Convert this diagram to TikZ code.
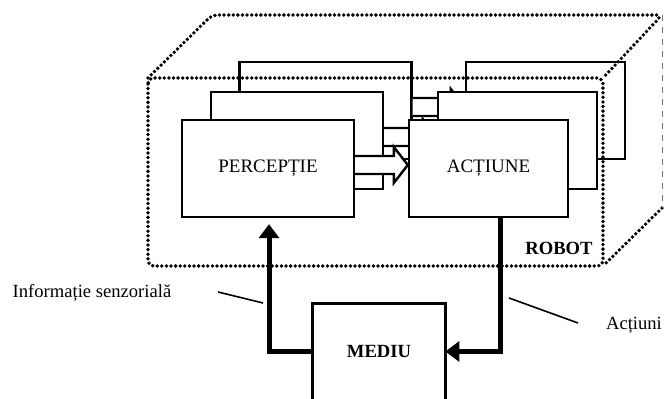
\documentclass[tikz,border=0pt]{standalone}
\usepackage{fontspec}
\setmainfont{Liberation Serif}
\usetikzlibrary{arrows.meta,calc}
\tikzset{
  blk/.style={draw, line width=1.2pt, fill=white, minimum height=48.5pt,
              inner sep=0pt, align=center, font=\fontsize{9.5}{11}\selectfont},
  percb/.style={blk, minimum width=86pt},
  actb/.style={blk, minimum width=79.5pt},
  arrb/.style={draw, line width=1.2pt, fill=white, line join=miter},
  flux/.style={-{Triangle[length=7pt,width=10pt]}, line width=2.5pt},
  robotline/.style={line width=1.9pt, line cap=round,
                    dash pattern=on 0pt off 2.3pt, rounded corners=3pt},
  backedge/.style={line width=0.4pt, dashed, draw=black!55},
  lbl/.style={font=\fontsize{9.3}{11}\selectfont, inner sep=1pt},
  tag/.style={font=\fontsize{9.3}{11}\selectfont\bfseries, inner sep=1pt},
  leader/.style={line width=0.8pt},
}
% sageata goala intre doua blocuri
\newcommand{\hollowarr}[2]{%
  \draw[arrb] ($(#1.east)+(0,-12.5)$) -- ($(#2.west)+(-14,-12.5)$)
    -- ($(#2.west)+(-14,-21.5)$) -- ($(#2.west)+(0,-3.5)$)
    -- ($(#2.west)+(-14,14.5)$) -- ($(#2.west)+(-14,5.5)$)
    -- ($(#1.east)+(0,5.5)$);}

\begin{document}
\begin{tikzpicture}[x=0.5pt, y=-0.5pt]
\useasboundingbox (0,0) rectangle (665,399);

% ---- nivel spate ----
\node[percb] (percB) at (325.5,110.5) {};
\node[actb]  (actB)  at (545.5,110.5) {};
\hollowarr{percB}{actB}

% ---- nivel mijloc ----
\node[percb] (percM) at (297,140.5) {};
\node[actb]  (actM)  at (517.5,140.5) {};
\hollowarr{percM}{actM}

% ---- nivel fata ----
\node[percb] (perc) at (268,168.5) {PERCEPȚIE};
\node[actb]  (act)  at (488.5,168.5) {ACȚIUNE};
\hollowarr{perc}{act}

% ---- ROBOT (contur punctat) ----
\draw[robotline] (148,78) rectangle (603,266);
\draw[robotline] (148,78) -- (212,15) -- (662,15) -- (603,78);
\draw[robotline] (662,208) -- (603,266);
\draw[backedge] (662,15) -- (662,208);
\node[tag] (robot) at (559,248) {ROBOT};

% ---- MEDIU ----
\node[minimum width=66pt, minimum height=47.5pt, inner sep=0pt,
      font=\fontsize{9.3}{11}\selectfont\bfseries] (mediu) at (379,351.5) {MEDIU};
\draw[line width=1.2pt] (mediu.south west) -- (mediu.north west)
  -- (mediu.north east) -- (mediu.south east);

% ---- legaturi ----
\draw[flux] (mediu.west) -| ($(perc.south)+(1,6)$);
\draw[flux] ($(act.south)+(11.5,0)$) |- (mediu.east);

% ---- etichete ----
\node[lbl] (info) at (92,293) {Informație senzorială};
\node[lbl] (actiuni) at (634,325) {Acțiuni};
\coordinate (infoA) at (218,292);
\coordinate (infoB) at (263,303);
\coordinate (actA) at (509,298);
\coordinate (actZ) at (578,323);
\draw[leader] (infoA) -- (infoB);
\draw[leader] (actA) -- (actZ);

\end{tikzpicture}
\end{document}
